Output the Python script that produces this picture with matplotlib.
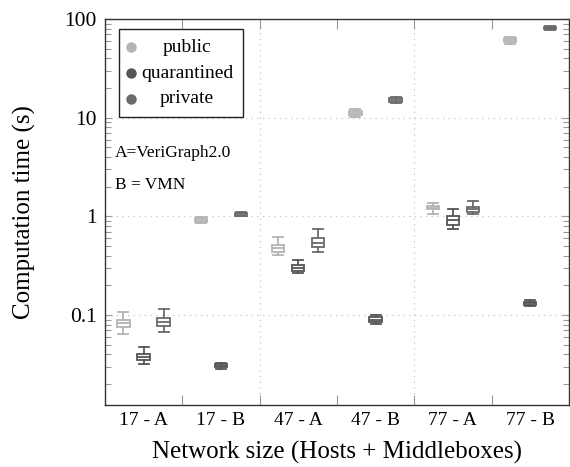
import matplotlib
matplotlib.use("Agg")
import matplotlib.pyplot as plt
from matplotlib.patches import Rectangle
from matplotlib.ticker import LogLocator, NullFormatter

plt.rcParams["font.family"] = ["Liberation Serif", "DejaVu Serif"]

groups = ["17 - A", "17 - B", "47 - A", "47 - B", "77 - A", "77 - B"]
series = ["public", "quarantined", "private"]
colors = ["#b4b4b4", "#555555", "#6a6a6a"]

# [whisker low, q1, median, q3, whisker high] per group
public = [
    [0.0645, 0.0757, 0.083, 0.089, 0.107],
    [0.85, 0.88, 0.92, 0.96, 0.98],
    [0.404, 0.433, 0.475, 0.509, 0.614],
    [10.2, 10.7, 11.2, 11.7, 12.4],
    [1.05, 1.18, 1.23, 1.29, 1.38],
    [56.0, 58.0, 61.0, 64.0, 66.0],
]
quarantined = [
    [0.032, 0.0351, 0.0376, 0.0404, 0.0475],
    [0.0285, 0.0295, 0.0305, 0.0318, 0.0327],
    [0.266, 0.278, 0.298, 0.32, 0.36],
    [0.081, 0.085, 0.089, 0.0953, 0.1],
    [0.74, 0.81, 0.91, 1.0, 1.18],
    [0.123, 0.127, 0.132, 0.137, 0.142],
]
private = [
    [0.0673, 0.0774, 0.085, 0.093, 0.115],
    [1.0, 1.02, 1.05, 1.08, 1.1],
    [0.433, 0.486, 0.533, 0.6, 0.74],
    [14.0, 14.5, 15.2, 15.8, 16.3],
    [1.07, 1.1, 1.18, 1.26, 1.45],
    [77.0, 79.0, 81.0, 83.0, 85.0],
]

ytick_vals = [0.1, 1, 10, 100]
ytick_labels = ["0.1", "1", "10", "100"]

fig = plt.figure(figsize=(5.7, 4.67), dpi=100)
ax = fig.add_axes([0.184, 0.133, 0.814, 0.826])

offsets = [-0.26, 0.0, 0.26]
for data, off, col in zip([public, quarantined, private], offsets, colors):
    stats = [dict(whislo=d[0], q1=d[1], med=d[2], q3=d[3], whishi=d[4], fliers=[])
             for d in data]
    pos = [i + off for i in range(len(groups))]
    ax.bxp(stats, positions=pos, widths=0.16, capwidths=0.13, patch_artist=True,
           boxprops=dict(facecolor="white", edgecolor=col, linewidth=1.3),
           medianprops=dict(color=col, linewidth=1.3),
           whiskerprops=dict(color=col, linewidth=1.3),
           capprops=dict(color=col, linewidth=1.3),
           manage_ticks=False, zorder=3)

ax.set_yscale("log")
ax.set_ylim(0.0123, 100)
ax.set_xlim(-0.5, len(groups) - 0.5)

# y ticks
ax.set_yticks(ytick_vals)
ax.set_yticklabels(ytick_labels)
ax.yaxis.set_minor_locator(LogLocator(base=10, subs=range(2, 10), numticks=20))
ax.yaxis.set_minor_formatter(NullFormatter())
ax.tick_params(axis="y", which="major", direction="in", length=5, width=0.8,
               color="#999999", left=True, right=True, labelsize=15.5, pad=6)
ax.tick_params(axis="y", which="minor", direction="in", length=4, width=0.8,
               color="#999999", left=True, right=True)

# x ticks: boundaries as major (no labels), centers as minor labels
ax.set_xticks([i + 0.5 for i in range(len(groups) - 1)])
ax.set_xticklabels([])
ax.set_xticks(range(len(groups)), minor=True)
ax.set_xticklabels(groups, minor=True)
ax.tick_params(axis="x", which="major", direction="in", length=7, width=0.8,
               color="#999999", top=True, bottom=True)
ax.tick_params(axis="x", which="minor", length=0, labelsize=14, pad=5)

# dotted grid
for v in ytick_vals[:-1]:
    ax.axhline(v, color="#c4c4c4", linestyle=(0, (1, 3.5)), linewidth=0.9, zorder=1)
for b in [1.5, 3.5]:
    ax.axvline(b, color="#c4c4c4", linestyle=(0, (1, 3.5)), linewidth=0.9, zorder=1)

for s in ax.spines.values():
    s.set_color("#333333")
    s.set_linewidth(1.0)

ax.set_xlabel("Network size (Hosts + Middleboxes)", fontsize=18, labelpad=9)
ax.set_ylabel("Computation time (s)", fontsize=18, labelpad=20)

# legend (text centred as in the original)
ax.add_patch(Rectangle((0.030, 0.746), 0.267, 0.228, transform=ax.transAxes,
                       facecolor="white", edgecolor="#222222", linewidth=1.0, zorder=5))
for k, (name, col) in enumerate(zip(series, colors)):
    yy = 0.927 - k * 0.067
    ax.plot([0.056], [yy], "o", color=col, markersize=6.5, transform=ax.transAxes,
            zorder=6, clip_on=False)
    ax.text(0.177, yy, name, transform=ax.transAxes, ha="center", va="center",
            fontsize=14, zorder=6)

ax.text(0.022, 0.653, "A=VeriGraph2.0", transform=ax.transAxes, ha="left",
        va="center", fontsize=12.5)
ax.text(0.022, 0.570, "B = VMN", transform=ax.transAxes, ha="left",
        va="center", fontsize=12.5)

fig.savefig("out.png", dpi=100)
